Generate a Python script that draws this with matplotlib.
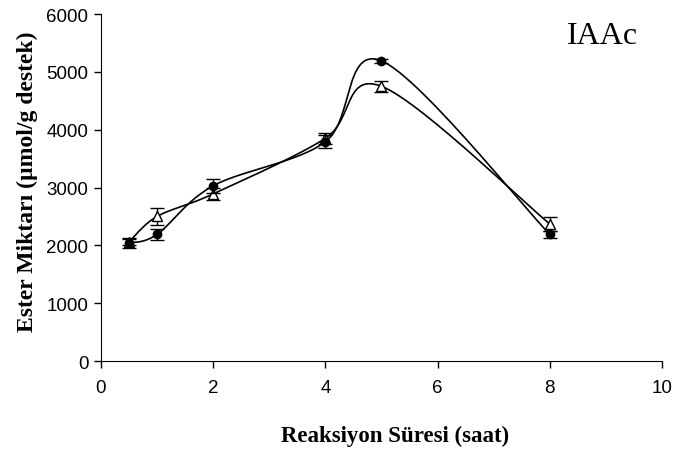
import matplotlib.pyplot as plt
import numpy as np

# reaction time (h)
time_h = [0.5, 1, 2, 4, 5, 8]

# ester amount (umol/g support)
circle_y = [2040, 2190, 3030, 3790, 5190, 2190]
circle_err = [80, 90, 120, 110, 30, 60]
tri_y = [2060, 2500, 2890, 3850, 4750, 2370]
tri_err = [50, 150, 100, 100, 100, 120]

fig = plt.figure(figsize=(6.75, 4.52), dpi=100)
ax = fig.add_axes([0.1496, 0.199, 0.8311, 0.7678])
ax.set_xlim(0, 10)
ax.set_ylim(0, 6000)
ax.set_xticks(range(0, 11, 2))
ax.set_yticks(range(0, 6001, 1000))
for s in ['top', 'right']:
    ax.spines[s].set_visible(False)
ax.tick_params(direction='out', length=5, width=1, labelsize=13.5)
ax.tick_params(axis='x', pad=8)
ax.tick_params(axis='y', pad=4)
for lab in ax.get_xticklabels() + ax.get_yticklabels():
    lab.set_family('Liberation Sans')


def smooth(xs, ys, n=30):
    # Excel-style smoothed line, built in display space
    pts = ax.transData.transform(np.column_stack([xs, ys]))
    out = []
    m = len(pts)
    for i in range(m - 1):
        p0 = pts[i - 1] if i > 0 else pts[i]
        p1, p2 = pts[i], pts[i + 1]
        p3 = pts[i + 2] if i + 2 < m else pts[i + 1]
        c1 = p1 + (p2 - p0) / 6
        c2 = p2 - (p3 - p1) / 6
        t = np.linspace(0, 1, n)[:, None]
        seg = ((1 - t) ** 3) * p1 + 3 * ((1 - t) ** 2) * t * c1 + 3 * (1 - t) * t ** 2 * c2 + t ** 3 * p2
        out.append(seg)
    out = np.vstack(out)
    d = ax.transData.inverted().transform(out)
    return d[:, 0], d[:, 1]


sx, sy = smooth(time_h, circle_y)
ax.plot(sx, sy, color='black', lw=1.2, zorder=2)
sx, sy = smooth(time_h, tri_y)
ax.plot(sx, sy, color='black', lw=1.2, zorder=2)

ax.errorbar(time_h, tri_y, yerr=tri_err, fmt='^', ms=7, mfc='white', mec='black',
            mew=1.0, ecolor='black', elinewidth=1, capsize=5, capthick=1, zorder=3)
ax.errorbar(time_h, circle_y, yerr=circle_err, fmt='o', ms=6, mfc='black', mec='black',
            ecolor='black', elinewidth=1, capsize=5, capthick=1, zorder=4)

ax.text(8.30, 5500, 'IAAc', family='Liberation Serif', fontsize=23,
        ha='left', va='baseline')

ax.set_ylabel('Ester Miktarı (µmol/g destek)', family='Liberation Serif',
              fontweight='bold', fontsize=17)
ax.yaxis.set_label_coords(-0.112, 0.519)
ax.set_xlabel('Reaksiyon Süresi (saat)', family='Liberation Serif',
              fontweight='bold', fontsize=16.5)
ax.xaxis.set_label_coords(0.525, -0.184)

fig.savefig('out.png', dpi=100, facecolor='white')
